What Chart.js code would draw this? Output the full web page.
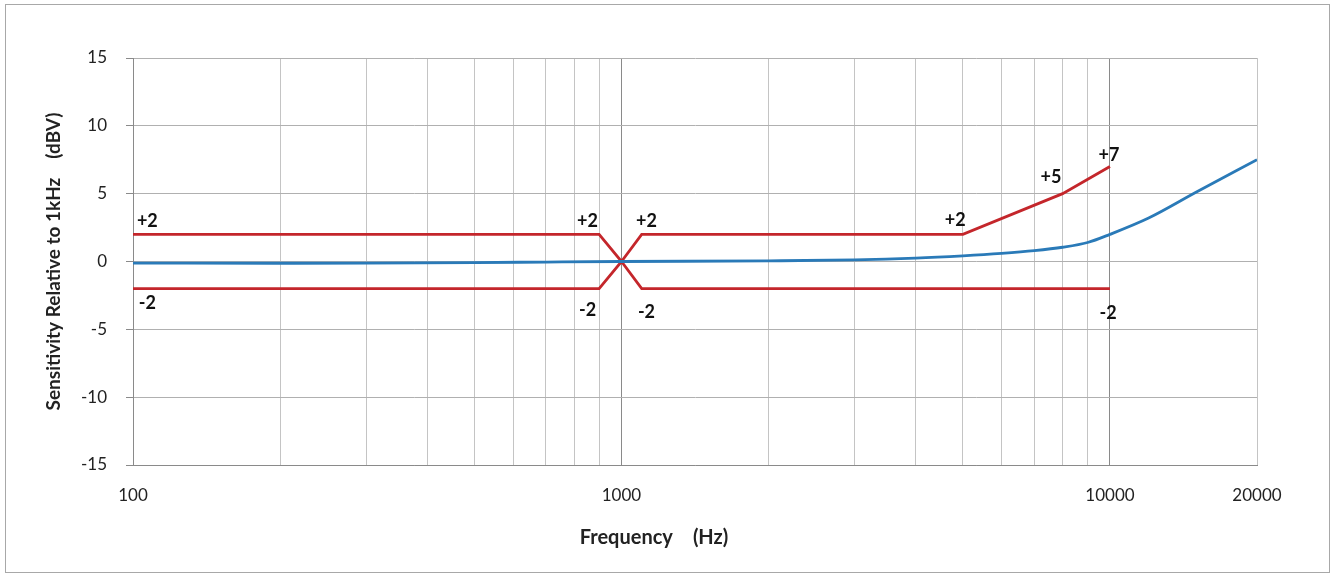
<!DOCTYPE html>
<html>
<head>
<meta charset="utf-8">
<script src="https://cdn.jsdelivr.net/npm/chart.js@4/dist/chart.umd.min.js"></script>
<style>
  html, body { margin: 0; padding: 0; background: #fff; }
  #wrap { position: relative; width: 1334px; height: 577px; }
  #frame { position: absolute; left: 5px; top: 4px; width: 1325px; height: 569px; border: 1px solid #a8a8a8; box-sizing: border-box; pointer-events: none; }
  canvas { position: absolute; left: 0; top: 0; }
</style>
</head>
<body>
<div id="wrap">
  <canvas id="c" width="1334" height="577"></canvas>
  <div id="frame"></div>
</div>
<script>
// ---- data ----
const upperFreq = [100, 900, 1000, 1100, 5000, 8000, 10000];
const upperVals = [2, 2, 0, 2, 2, 5, 7];
const lowerFreq = [100, 900, 1000, 1100, 10000];
const lowerVals = [-2, -2, 0, -2, -2];
const respFreq = [100, 200, 300, 500, 700, 1000, 2000, 3000, 4000, 5000, 6000, 7000, 8000, 9000, 10000, 12000, 15000, 20000];
const respVals = [-0.12, -0.13, -0.12, -0.08, -0.04, 0, 0.05, 0.12, 0.25, 0.42, 0.6, 0.8, 1.05, 1.4, 2.0, 3.2, 5.1, 7.5];
const annotText = ['+2', '-2', '+2', '+2', '-2', '-2', '+2', '+5', '+7', '-2'];
const annotFreq = [107, 107, 852, 1125, 852, 1125, 4820, 7570, 9950, 9910];
const annotVals = [3.0, -3.06, 3.0, 3.0, -3.57, -3.7, 3.06, 6.23, 7.85, -3.8];
const xTickValues = [100,200,300,400,500,600,700,800,900,1000,2000,3000,4000,5000,6000,7000,8000,9000,10000,20000];
const xTickLabels = {100: '100', 1000: '1000', 10000: '10000', 20000: '20000'};
const yMin = -15, yMax = 15, yStep = 5;
const xTitle = 'Frequency\u3000(Hz)';
const yTitle = 'Sensitivity Relative to 1kHz\u3000(dBV)';

const RED = '#c4262b';
const BLUE = '#2a7ab8';
const FONT = 'Lato, "Liberation Sans", sans-serif';

function pts(xs, ys) { return xs.map((x, i) => ({x: x, y: ys[i]})); }

const annotPlugin = {
  id: 'annots',
  afterDatasetsDraw(chart) {
    const ctx = chart.ctx;
    const xs = chart.scales.x, ys = chart.scales.y;
    ctx.save();
    ctx.fillStyle = '#111';
    ctx.font = 'bold 18px ' + FONT;
    ctx.textAlign = 'center';
    ctx.textBaseline = 'middle';
    annotText.forEach((t, i) => {
      ctx.fillText(t, xs.getPixelForValue(annotFreq[i]), ys.getPixelForValue(annotVals[i]));
    });
    ctx.font = 'bold 20px ' + FONT;
    ctx.fillStyle = '#222';
    ctx.fillText(xTitle, 654, 538);
    ctx.restore();
  }
};

new Chart(document.getElementById('c'), {
  type: 'line',
  data: {
    datasets: [
      { data: pts(respFreq, respVals), borderColor: BLUE, borderWidth: 2.8, pointRadius: 0, cubicInterpolationMode: 'monotone', fill: false },
      { data: pts(upperFreq, upperVals), borderColor: RED, borderWidth: 2.8, pointRadius: 0, tension: 0, fill: false },
      { data: pts(lowerFreq, lowerVals), borderColor: RED, borderWidth: 2.8, pointRadius: 0, tension: 0, fill: false }
    ]
  },
  options: {
    responsive: false,
    animation: false,
    layout: { padding: { left: 40, right: 77, top: 58, bottom: 0 } },
    plugins: { legend: { display: false }, tooltip: { enabled: false } },
    scales: {
      x: {
        type: 'logarithmic',
        min: 100, max: 20000,
        afterBuildTicks(scale) { scale.ticks = xTickValues.map(v => ({value: v})); },
        afterFit(scale) { scale.height = 112; },
        ticks: {
          autoSkip: false, maxRotation: 0, padding: 20,
          color: '#222', font: { family: FONT, size: 17 },
          callback(v) { return xTickLabels[v] || ''; }
        },
        grid: {
          drawTicks: false,
          color(ctx) { const v = ctx.tick && ctx.tick.value; return (v === 1000 || v === 10000) ? '#8a8a8a' : '#c4c4c4'; },
          lineWidth: 1
        },
        border: { color: '#8a8a8a', width: 1 }
      },
      y: {
        min: yMin, max: yMax,
        afterBuildTicks(scale) { const t = []; for (let v = yMin; v <= yMax; v += yStep) t.push({value: v}); scale.ticks = t; },
        afterFit(scale) { scale.width = 93; },
        ticks: { padding: 19, color: '#222', font: { family: FONT, size: 17 } },
        grid: { color: '#b0b0b0', lineWidth: 1, tickLength: 7, tickColor: '#8a8a8a' },
        border: { color: '#8a8a8a', width: 1 },
        title: { display: true, text: yTitle, color: '#222', font: { family: FONT, size: 19, weight: 'bold' }, padding: { top: 2, bottom: 0 } }
      }
    }
  },
  plugins: [annotPlugin]
});
</script>
</body>
</html>
